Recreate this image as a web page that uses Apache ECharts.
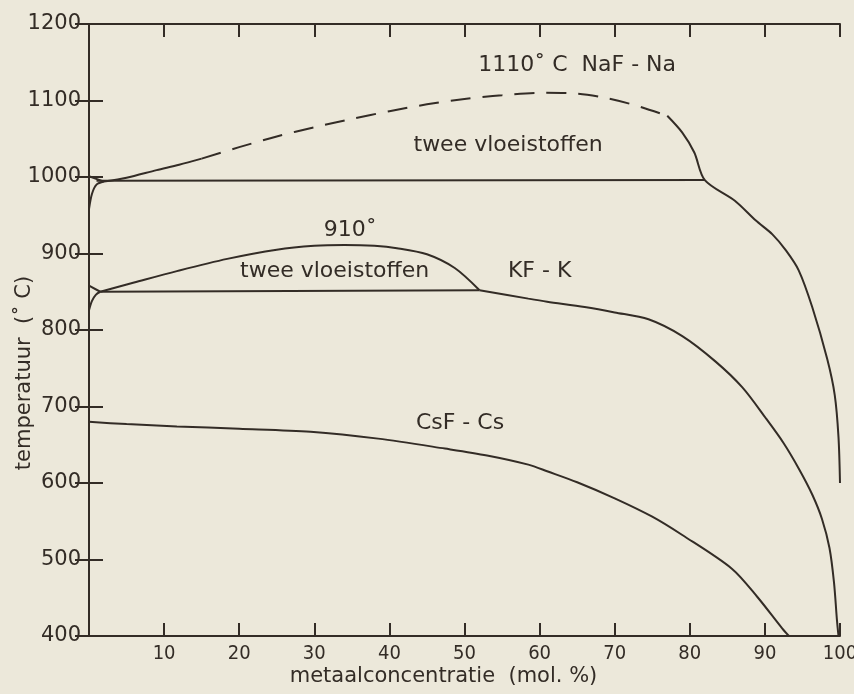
<!DOCTYPE html>
<html>
<head>
<meta charset="utf-8">
<script src="https://cdn.jsdelivr.net/npm/echarts@6/dist/echarts.min.js"></script>
<style>
html, body { margin: 0; padding: 0; background: #ece8da; }
#main { width: 854px; height: 694px; }
</style>
</head>
<body>
<div id="main"></div>
<script>
// x-as: metaalconcentratie (mol. %), y-as: temperatuur (graden C)
var xTicks = [0, 10, 20, 30, 40, 50, 60, 70, 80, 90, 100];
var yTicks = [400, 500, 600, 700, 800, 900, 1000, 1100, 1200];

// NaF - Na
var nafRise = [[2, 994], [5, 999], [9, 1009], [12, 1016], [15, 1024]];
var nafDash = [[15, 1024], [20, 1039], [25, 1053], [30, 1065], [35, 1076], [40, 1086], [45, 1095], [50, 1102], [55, 1107], [60, 1110], [65, 1109], [69, 1103], [73, 1093], [77, 1080]];
var nafFall = [[77, 1080], [79, 1058], [80.6, 1032], [82, 996], [86, 969], [88.8, 943], [91, 925], [92.8, 904], [94.5, 878], [96.3, 830], [98.3, 762], [99.3, 715], [99.8, 660], [100, 600]];
var nafLine = [[1, 995], [82, 996]];
var nafEdgeTop = [[0, 1001], [2, 994]];
var nafEdgeLow = [[0, 958], [0.4, 978], [1, 990], [2, 994]];

// KF - K
var kfLine = [[1.5, 850], [52, 852]];
var kfDome = [[1.5, 850], [6, 862], [11.7, 877], [18.4, 893], [25, 905], [30, 910], [34, 911], [38, 910], [41, 907], [45, 899], [48.7, 881], [52, 852]];
var kfFall = [[52, 852], [58.5, 841], [61, 837], [66, 830], [70, 823], [74.5, 814], [79, 792], [83.4, 759], [87, 725], [90.1, 685], [92.5, 652], [94.5, 619], [96.3, 585], [97.6, 553], [98.6, 515], [99.2, 470], [99.6, 420], [99.8, 400]];
var kfEdgeTop = [[0, 858], [1.5, 850]];
var kfEdgeLow = [[0, 826], [0.4, 838], [0.9, 846], [1.5, 850]];

// CsF - Cs
var csfCurve = [[0, 680], [5, 677], [11.7, 674], [20, 671], [29.5, 667], [38.5, 658], [47.4, 645], [53, 636], [58.5, 624], [61.1, 615], [65, 601], [70, 580], [75, 556], [79, 532], [85.6, 488], [89, 451], [92.3, 410], [93.2, 400]];

// teksten in het diagram [x, T, tekst]
var notes = [
	[65, 1146, '1110\u02DA C  NaF - Na'],
	[55.8, 1041, 'twee vloeistoffen'],
	[34.8, 930, '910\u02DA'],
	[32.7, 877, 'twee vloeistoffen'],
	[60, 877, 'KF - K'],
	[49.4, 678, 'CsF - Cs']
];

var inkColor = '#332c26';

function curve(data, dashed) {
	return {
		type : 'line',
		data : data,
		showSymbol : false,
		symbol : 'none',
		smooth : 0.3,
		lineStyle : {
			color : inkColor,
			width : 2,
			type : dashed ? [20, 12] : 'solid'
		},
		silent : true,
		z : 3
	};
}

var noteData = [];
for (var i = 0; i < notes.length; i++) {
	noteData.push({
		value : [notes[i][0], notes[i][1]],
		label : {
			formatter : notes[i][2]
		}
	});
}

var chart = echarts.init(document.getElementById('main'));
var option = {
	animation : false,
	backgroundColor : '#ece8da',
	textStyle : {
		fontFamily : 'DejaVu Sans'
	},
	grid : {
		left : 89,
		right : 14,
		top : 24,
		bottom : 58,
		containLabel : false,
		outerBoundsMode : 'none'
	},
	xAxis : [
		{
			type : 'value',
			min : xTicks[0],
			max : xTicks[xTicks.length - 1],
			interval : 10,
			name : 'metaalconcentratie  (mol. %)',
			nameLocation : 'middle',
			nameGap : 30,
			nameMoveOverlap : false,
			nameTextStyle : {
				color : inkColor,
				fontSize : 21,
				padding : [0, 42, 0, 0]
			},
			axisLine : {
				lineStyle : {
					color : inkColor,
					width : 2
				}
			},
			axisTick : {
				inside : true,
				length : 13,
				lineStyle : {
					color : inkColor,
					width : 2
				}
			},
			axisLabel : {
				color : inkColor,
				fontSize : 20,
				fontFamily : 'DejaVu Sans Condensed, DejaVu Sans',
				margin : 8,
				formatter : function(v) {
					return v == 0 ? '' : String(v);
				}
			},
			splitLine : {
				show : false
			}
		}, {
			type : 'value',
			position : 'top',
			min : xTicks[0],
			max : xTicks[xTicks.length - 1],
			interval : 10,
			axisLine : {
				lineStyle : {
					color : inkColor,
					width : 2
				}
			},
			axisTick : {
				inside : true,
				length : 13,
				lineStyle : {
					color : inkColor,
					width : 2
				}
			},
			axisLabel : {
				show : false
			},
			splitLine : {
				show : false
			}
		}
	],
	yAxis : [
		{
			type : 'value',
			min : yTicks[0],
			max : yTicks[yTicks.length - 1],
			interval : 100,
			name : 'temperatuur  (\u02DA C)',
			nameLocation : 'middle',
			nameGap : 54,
			nameRotate : 90,
			nameMoveOverlap : false,
			nameTextStyle : {
				color : inkColor,
				fontSize : 21,
				padding : [0, 86, 0, 0]
			},
			axisLine : {
				lineStyle : {
					color : inkColor,
					width : 2
				}
			},
			axisTick : {
				inside : true,
				length : 14,
				lineStyle : {
					color : inkColor,
					width : 2
				}
			},
			axisLabel : {
				color : inkColor,
				fontSize : 21,
				margin : 8,
				formatter : function(v) {
					return String(v);
				}
			},
			splitLine : {
				show : false
			}
		}, {
			type : 'value',
			position : 'right',
			min : yTicks[0],
			max : yTicks[yTicks.length - 1],
			interval : 100,
			axisLine : {
				lineStyle : {
					color : inkColor,
					width : 2
				}
			},
			axisTick : {
				inside : true,
				length : 14,
				lineStyle : {
					color : inkColor,
					width : 2
				}
			},
			axisLabel : {
				show : false
			},
			splitLine : {
				show : false
			}
		}
	],
	series : [
		curve(nafRise, false),
		curve(nafDash, true),
		curve(nafFall, false),
		curve(nafLine, false),
		curve(nafEdgeTop, false),
		curve(nafEdgeLow, false),
		curve(kfLine, false),
		curve(kfDome, false),
		curve(kfFall, false),
		curve(kfEdgeTop, false),
		curve(kfEdgeLow, false),
		curve(csfCurve, false),
		{
			type : 'scatter',
			data : noteData,
			symbolSize : 0,
			silent : true,
			itemStyle : {
				opacity : 1
			},
			label : {
				show : true,
				position : 'inside',
				color : inkColor,
				opacity : 1,
				fontSize : 22
			}
		}
	]
};
chart.setOption(option);
</script>
</body>
</html>
